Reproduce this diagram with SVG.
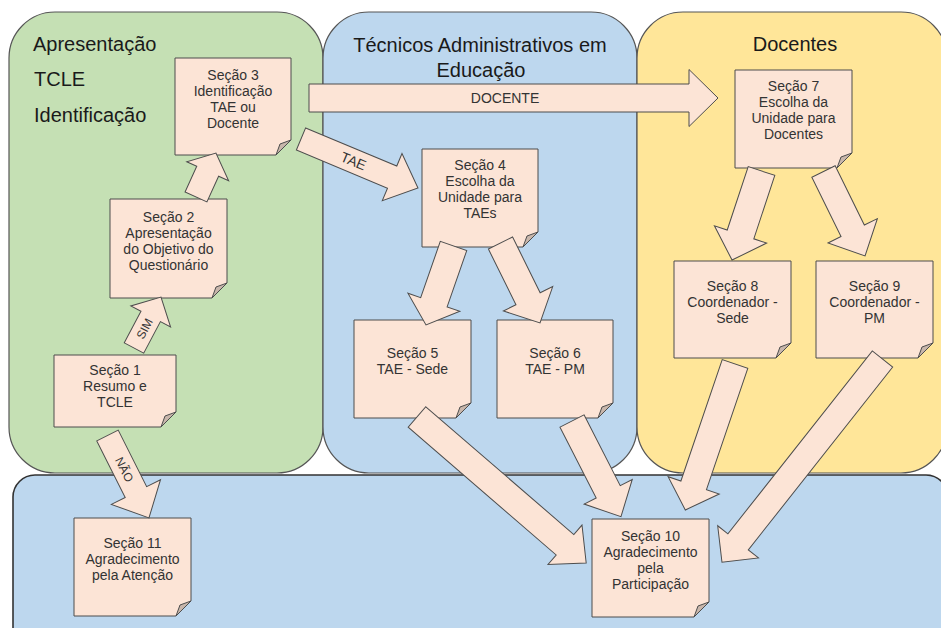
<svg xmlns="http://www.w3.org/2000/svg" width="941" height="628" viewBox="0 0 941 628">
  <style>
    .panel { stroke: #555; stroke-width: 1.2; }
    .title { font-family: "Liberation Sans", Arial, sans-serif; font-size: 20px; fill: #1a1a1a; }
    .note { fill: #fce4d6; stroke: #4d4d4d; stroke-width: 1; }
    .fold { fill: #c8b6ab; stroke: #4d4d4d; stroke-width: 1; stroke-linejoin: round; }
    .ntext { font-family: "Liberation Sans", Arial, sans-serif; font-size: 14px; fill: #333; text-anchor: middle; }
    .arrow { fill: #fce4d6; stroke: #4d4d4d; stroke-width: 1; stroke-linejoin: miter; }
    .alabel { font-family: "Liberation Sans", Arial, sans-serif; font-size: 13px; fill: #333; text-anchor: middle; }
  </style>

  <rect width="941" height="628" fill="#ffffff"/>

  <!-- swimlane panels -->
  <g id="panels">
    <rect class="panel" x="13" y="475" width="935" height="200" rx="22" fill="#bdd7ee" style="stroke:#333;stroke-width:1.6"/>
    <rect class="panel" x="9" y="12" width="314" height="461" rx="46" fill="#c5e0b4"/>
    <rect class="panel" x="323" y="12" width="314" height="461" rx="46" fill="#bdd7ee"/>
    <rect class="panel" x="637" y="12" width="310" height="461" rx="46" fill="#ffe699"/>
    <text class="title" x="33" y="51">Apresentação</text>
    <text class="title" x="34" y="86">TCLE</text>
    <text class="title" x="34" y="122">Identificação</text>
    <text class="title" x="480" y="52" text-anchor="middle">Técnicos Administrativos em</text>
    <text class="title" x="481" y="77" text-anchor="middle">Educação</text>
    <text class="title" x="795" y="51" text-anchor="middle">Docentes</text>
  </g>

  <!-- section notes -->
  <g id="secao1">
    <path class="note" d="M54,355 H176 V412 L161,427 H54 Z"/>
    <path class="fold" d="M176,412 L165,416 L161,427 Z"/>
    <text class="ntext" x="115" y="375">Seção 1</text>
    <text class="ntext" x="115" y="391">Resumo e</text>
    <text class="ntext" x="115" y="407">TCLE</text>
  </g>
  <g id="secao2">
    <path class="note" d="M110,199 H227 V283 L212,298 H110 Z"/>
    <path class="fold" d="M227,283 L216,287 L212,298 Z"/>
    <text class="ntext" x="168.5" y="222">Seção 2</text>
    <text class="ntext" x="168.5" y="238">Apresentação</text>
    <text class="ntext" x="168.5" y="254">do Objetivo do</text>
    <text class="ntext" x="168.5" y="270">Questionário</text>
  </g>
  <g id="secao3">
    <path class="note" d="M175,58 H291 V140 L276,155 H175 Z"/>
    <path class="fold" d="M291,140 L280,144 L276,155 Z"/>
    <text class="ntext" x="233" y="80">Seção 3</text>
    <text class="ntext" x="233" y="96">Identificação</text>
    <text class="ntext" x="233" y="112">TAE ou</text>
    <text class="ntext" x="233" y="128">Docente</text>
  </g>
  <g id="secao4">
    <path class="note" d="M422,149 H538 V232 L523,247 H422 Z"/>
    <path class="fold" d="M538,232 L527,236 L523,247 Z"/>
    <text class="ntext" x="480" y="170">Seção 4</text>
    <text class="ntext" x="480" y="186">Escolha da</text>
    <text class="ntext" x="480" y="202">Unidade para</text>
    <text class="ntext" x="480" y="218">TAEs</text>
  </g>
  <g id="secao5">
    <path class="note" d="M354,320 H471 V403 L456,418 H354 Z"/>
    <path class="fold" d="M471,403 L460,407 L456,418 Z"/>
    <text class="ntext" x="412.5" y="358">Seção 5</text>
    <text class="ntext" x="412.5" y="374">TAE - Sede</text>
  </g>
  <g id="secao6">
    <path class="note" d="M497,320 H613 V403 L598,418 H497 Z"/>
    <path class="fold" d="M613,403 L602,407 L598,418 Z"/>
    <text class="ntext" x="555" y="358">Seção 6</text>
    <text class="ntext" x="555" y="374">TAE - PM</text>
  </g>
  <g id="secao7">
    <path class="note" d="M735,70 H852 V153 L837,168 H735 Z"/>
    <path class="fold" d="M852,153 L841,157 L837,168 Z"/>
    <text class="ntext" x="793.5" y="91">Seção 7</text>
    <text class="ntext" x="793.5" y="107">Escolha da</text>
    <text class="ntext" x="793.5" y="123">Unidade para</text>
    <text class="ntext" x="793.5" y="139">Docentes</text>
  </g>
  <g id="secao8">
    <path class="note" d="M674,261 H791 V343 L776,358 H674 Z"/>
    <path class="fold" d="M791,343 L780,347 L776,358 Z"/>
    <text class="ntext" x="732.5" y="291">Seção 8</text>
    <text class="ntext" x="732.5" y="307">Coordenador -</text>
    <text class="ntext" x="732.5" y="323">Sede</text>
  </g>
  <g id="secao9">
    <path class="note" d="M816,261 H933 V343 L918,358 H816 Z"/>
    <path class="fold" d="M933,343 L922,347 L918,358 Z"/>
    <text class="ntext" x="874.5" y="291">Seção 9</text>
    <text class="ntext" x="874.5" y="307">Coordenador -</text>
    <text class="ntext" x="874.5" y="323">PM</text>
  </g>
  <g id="secao10">
    <path class="note" d="M592,519 H709 V602 L694,617 H592 Z"/>
    <path class="fold" d="M709,602 L698,606 L694,617 Z"/>
    <text class="ntext" x="650.5" y="541">Seção 10</text>
    <text class="ntext" x="650.5" y="557">Agradecimento</text>
    <text class="ntext" x="650.5" y="573">pela</text>
    <text class="ntext" x="650.5" y="589">Participação</text>
  </g>
  <g id="secao11">
    <path class="note" d="M74,518 H191 V601 L176,616 H74 Z"/>
    <path class="fold" d="M191,601 L180,605 L176,616 Z"/>
    <text class="ntext" x="132.5" y="548">Seção 11</text>
    <text class="ntext" x="132.5" y="564">Agradecimento</text>
    <text class="ntext" x="132.5" y="580">pela Atenção</text>
  </g>

  <!-- block arrows: each drawn along +x from tail (0,0) to tip, then placed -->
  <g id="connectors">
    <g transform="translate(134,348) rotate(-62.1)">
      <polygon class="arrow" points="0,-11 35.7,-11 35.7,-22.5 57.7,0 35.7,22.5 35.7,11 0,11"/>
      <text class="alabel" x="22" y="4.5" style="font-size:12px">SIM</text>
    </g>
    <g transform="translate(196,197) rotate(-65.6)">
      <polygon class="arrow" points="0,-12 28.3,-12 28.3,-23 48.3,0 28.3,23 28.3,12 0,12"/>
    </g>
    <g>
      <polygon class="arrow" points="309,84 689,84 689,69.5 718,98 689,126.5 689,112 309,112"/>
      <text class="alabel" x="505" y="103" style="font-size:14px">DOCENTE</text>
    </g>
    <g transform="translate(301,139) rotate(22.7)">
      <polygon class="arrow" points="0,-12 98.8,-12 98.8,-25.5 126.8,0 98.8,25.5 98.8,12 0,12"/>
      <text class="alabel" x="57" y="5" style="font-size:14px">TAE</text>
    </g>
    <g transform="translate(453.5,246) rotate(109.2)">
      <polygon class="arrow" points="0,-14 59.6,-14 59.6,-27.5 83.6,0 59.6,27.5 59.6,14 0,14"/>
    </g>
    <g transform="translate(500.5,243) rotate(63.7)">
      <polygon class="arrow" points="0,-13.5 62.2,-13.5 62.2,-27.5 89.2,0 62.2,27.5 62.2,13.5 0,13.5"/>
    </g>
    <g transform="translate(761.5,171) rotate(108.3)">
      <polygon class="arrow" points="0,-14 66.8,-14 66.8,-27.5 93.8,0 66.8,27.5 66.8,14 0,14"/>
    </g>
    <g transform="translate(823.5,171.5) rotate(63.8)">
      <polygon class="arrow" points="0,-13 66.1,-13 66.1,-27.5 94.1,0 66.1,27.5 66.1,13 0,13"/>
    </g>
    <g transform="translate(417,417) rotate(40.8)">
      <polygon class="arrow" points="0,-13.5 195.5,-13.5 195.5,-26 223.5,0 195.5,26 195.5,13.5 0,13.5"/>
    </g>
    <g transform="translate(572,421) rotate(62.9)">
      <polygon class="arrow" points="0,-13.5 79.5,-13.5 79.5,-27 107.5,0 79.5,27 79.5,13.5 0,13.5"/>
    </g>
    <g transform="translate(735,364) rotate(108.8)">
      <polygon class="arrow" points="0,-13.5 128.2,-13.5 128.2,-27 154.2,0 128.2,27 128.2,13.5 0,13.5"/>
    </g>
    <g transform="translate(882.5,359) rotate(128.3)">
      <polygon class="arrow" points="0,-13 233,-13 233,-26 259,0 233,26 233,13 0,13"/>
    </g>
    <g transform="translate(107.5,435.5) rotate(63.3)">
      <polygon class="arrow" points="0,-12 63.3,-12 63.3,-27.5 92.3,0 63.3,27.5 63.3,12 0,12"/>
      <text class="alabel" x="38" y="4.5" style="font-size:12px">NÃO</text>
    </g>
  </g>
</svg>
